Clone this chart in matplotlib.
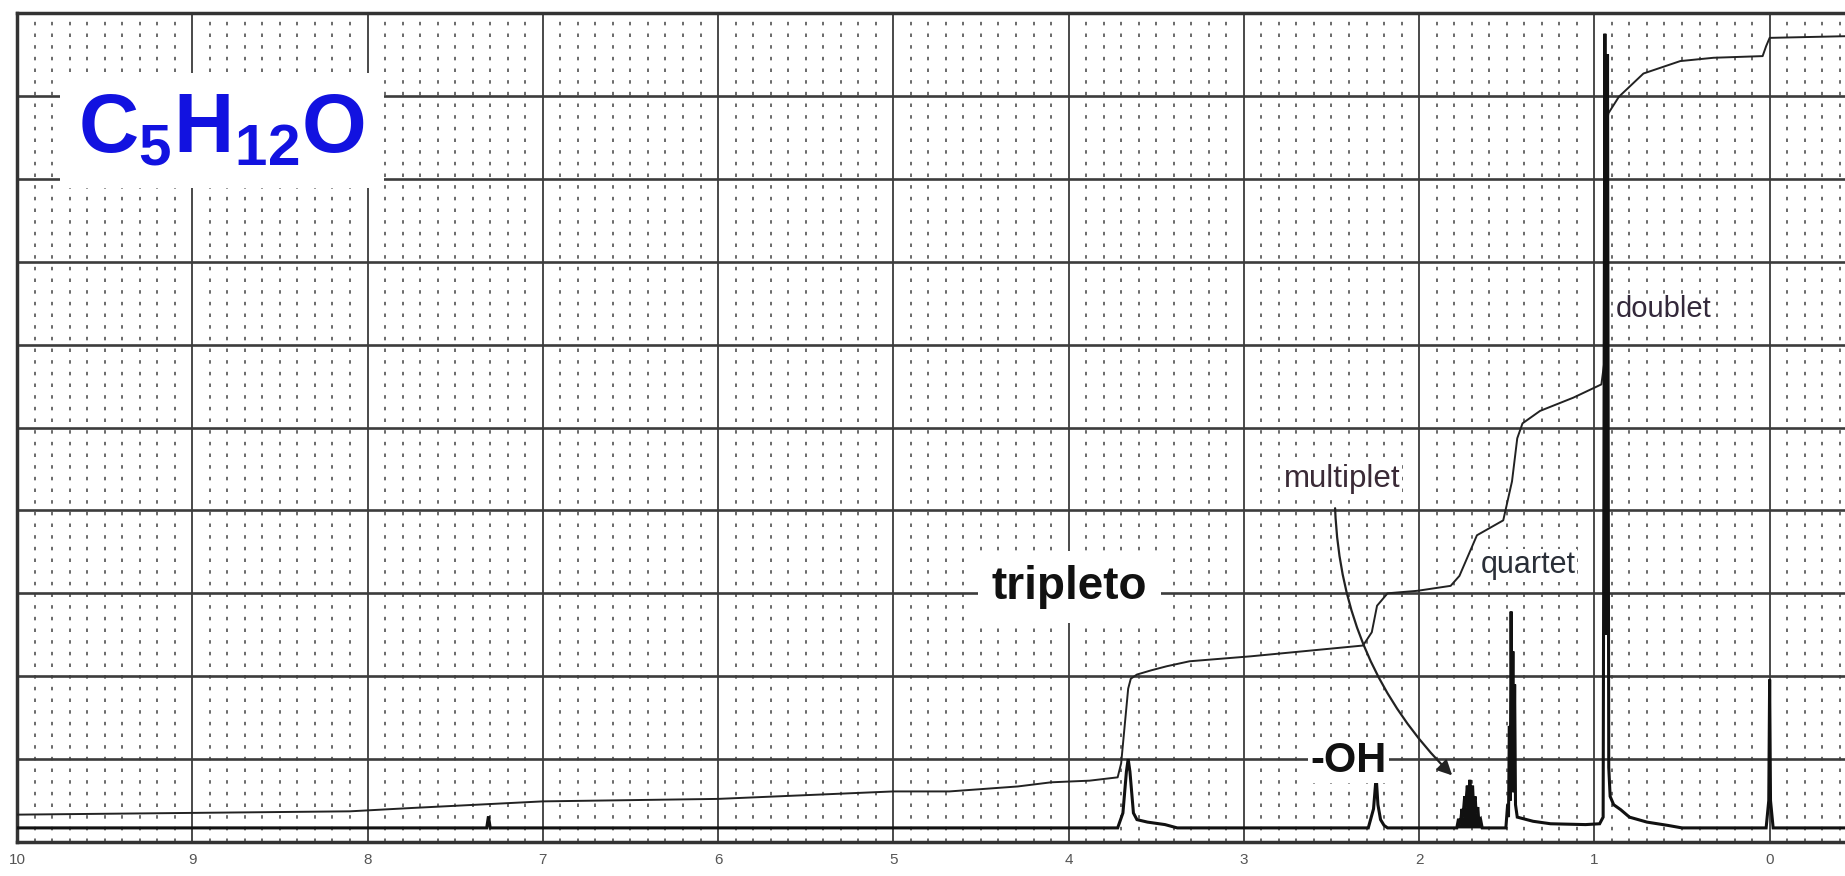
import numpy as np
import matplotlib
matplotlib.use("Agg")
import matplotlib.pyplot as plt  # noqa: E402

plt.rcParams["font.family"] = ["Liberation Sans", "DejaVu Sans"]
plt.rcParams["mathtext.fontset"] = "custom"
plt.rcParams["mathtext.bf"] = "Liberation Sans:bold"
plt.rcParams["mathtext.rm"] = "Liberation Sans:bold"

# --- data (ppm vs. chart divisions) ---
tick_ppm = [10, 9, 8, 7, 6, 5, 4, 3, 2, 1, 0]
tick_labels = ["10", "9", "8", "7", "6", "5", "4", "3", "2", "1", "0"]

# spectrum trace
spec_ppm = [10.0, 7.32, 7.31, 7.30,
            3.72, 3.69, 3.67, 3.66, 3.65, 3.63, 3.61, 3.55, 3.45, 3.38,
            2.29, 2.26, 2.245, 2.235, 2.22, 2.20, 2.18,
            1.785, 1.775, 1.765, 1.755, 1.75, 1.74, 1.735, 1.725, 1.72,
            1.71, 1.705, 1.695, 1.69, 1.68, 1.675, 1.665, 1.66, 1.65, 1.64,
            1.505, 1.495, 1.49, 1.485, 1.48, 1.475, 1.47, 1.465, 1.46, 1.455,
            1.45, 1.44, 1.35, 1.25, 1.05,
            0.97, 0.95, 0.94, 0.932, 0.925, 0.918, 0.91, 0.89, 0.85, 0.80,
            0.70, 0.58, 0.50,
            0.02, 0.005, 0.0, -0.005, -0.02, -0.43]
spec_int = [0.17, 0.17, 0.31, 0.17,
            0.17, 0.35, 0.85, 1.0, 0.85, 0.35, 0.27, 0.24, 0.21, 0.17,
            0.17, 0.40, 0.79, 0.45, 0.27, 0.20, 0.17,
            0.17, 0.28, 0.22, 0.40, 0.30, 0.55, 0.42, 0.68, 0.50,
            0.75, 0.55, 0.68, 0.45, 0.55, 0.35, 0.42, 0.26, 0.28, 0.17,
            0.17, 0.45, 0.30, 1.40, 0.50, 2.78, 1.00, 2.30, 0.60, 1.90,
            0.45, 0.30, 0.25, 0.22, 0.21,
            0.22, 0.30, 9.75, 2.50, 9.50, 0.90, 0.55, 0.45, 0.39, 0.30,
            0.24, 0.20, 0.17,
            0.17, 0.50, 1.96, 0.50, 0.17, 0.17]
multiplet_range = (1.64, 1.785)

# integration curve
integ_ppm = [10.0, 8.1, 7.75, 7.0, 6.0, 5.0, 4.68, 4.29, 4.1, 3.88, 3.72,
             3.70, 3.68, 3.66, 3.645, 3.61, 3.53, 3.44, 3.31, 2.96,
             2.32, 2.27, 2.24, 2.18, 2.01, 1.82, 1.77, 1.67, 1.52,
             1.47, 1.44, 1.41, 1.31, 1.12, 0.96, 0.945, 0.935, 0.92,
             0.86, 0.72, 0.51, 0.32, 0.04, 0.02, 0.0, -0.43]
integ_level = [0.33, 0.37, 0.41, 0.49, 0.52, 0.61, 0.61, 0.67, 0.72, 0.74, 0.78,
               0.95, 1.40, 1.85, 1.97, 2.02, 2.07, 2.12, 2.18, 2.24,
               2.37, 2.53, 2.85, 3.00, 3.03, 3.09, 3.21, 3.70, 3.88,
               4.35, 4.87, 5.05, 5.20, 5.36, 5.52, 5.76, 8.59, 8.79,
               8.99, 9.27, 9.42, 9.46, 9.48, 9.60, 9.70, 9.72]

fig = plt.figure(figsize=(18.45, 8.76), dpi=100)
ax = fig.add_axes([17 / 1845, 34 / 876, 1 - 17 / 1845, (842 - 13) / 876])
ax.set_xlim(10, -0.43)
ax.set_ylim(0, 10)

# chart paper grid
for p in np.arange(-0.4, 10.0, 0.1):
    if abs(p - round(p)) < 1e-6:
        continue
    ax.axvline(p, color="#6a6a6a", lw=1.4, ls=(0, (1.8, 4.2)), zorder=0)
for p in range(0, 10):
    ax.axvline(p, color="#4a4a4a", lw=1.4, zorder=1)
for h in range(1, 10):
    ax.axhline(h, color="#3c3c3c", lw=1.9, zorder=1)

# integration trace and spectrum
ax.plot(integ_ppm, integ_level, color="#222222", lw=1.4, zorder=3)
sp = np.array(spec_ppm)
si = np.array(spec_int)
in_mult = (sp >= multiplet_range[0]) & (sp <= multiplet_range[1])
ax.fill_between(sp, spec_int[0], si, where=in_mult, color="#111111",
                lw=0, zorder=4)
ax.plot(spec_ppm, spec_int, color="#111111", lw=2.2, zorder=4,
        solid_joinstyle="miter")

for s in ("top", "left", "bottom"):
    ax.spines[s].set_color("#333333")
    ax.spines[s].set_linewidth(2.5)
ax.spines["right"].set_visible(False)

ax.set_xticks(tick_ppm)
ax.set_xticklabels(tick_labels)
ax.set_yticks([])
ax.tick_params(axis="x", length=0, pad=8, labelsize=11, labelcolor="#555555")

# annotations
ax.text(9.65, 8.32, r"$\mathbf{C_5H_{12}O}$", color="#1212e0", fontsize=60,
        ha="left", va="baseline", zorder=6,
        bbox=dict(boxstyle="square,pad=0.22", fc="white", ec="none"))
ax.text(4.44, 2.93, "tripleto", fontsize=33, fontweight="bold",
        color="#111111", ha="left", va="baseline", zorder=6,
        bbox=dict(boxstyle="square,pad=0.3", fc="white", ec="none"))
ax.text(2.62, 0.84, "-OH", fontsize=30, fontweight="bold",
        color="#111111", ha="left", va="baseline", zorder=6,
        bbox=dict(boxstyle="square,pad=0.05", fc="white", ec="none"))
ax.text(2.77, 4.28, "multiplet", fontsize=22.5, color="#3a2a36",
        ha="left", va="baseline", zorder=6,
        bbox=dict(boxstyle="square,pad=0.05", fc="white", ec="none"))
ax.text(1.65, 3.24, "quartet", fontsize=22, color="#2a2f38",
        ha="left", va="baseline", zorder=6,
        bbox=dict(boxstyle="square,pad=0.05", fc="white", ec="none"))
ax.text(0.88, 6.33, "doublet", fontsize=21, color="#33283a",
        ha="left", va="baseline", zorder=6,
        bbox=dict(boxstyle="square,pad=0.05", fc="white", ec="none"))

ax.annotate("", xy=(1.80, 0.78), xytext=(2.48, 4.06),
            arrowprops=dict(arrowstyle="-|>", color="#222222", lw=1.6,
                            mutation_scale=22,
                            connectionstyle="arc3,rad=0.2"),
            zorder=7)

fig.savefig("out.png", dpi=100)
